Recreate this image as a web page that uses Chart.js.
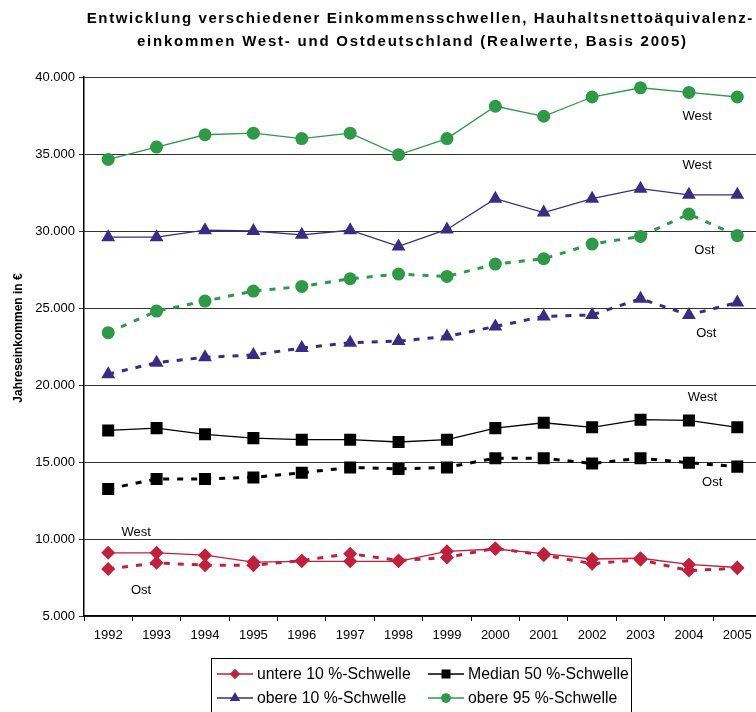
<!DOCTYPE html>
<html>
<head>
<meta charset="utf-8">
<title>Einkommensschwellen West/Ost</title>
<script src="https://cdn.jsdelivr.net/npm/chart.js@4/dist/chart.umd.min.js"></script>
<style>
  html, body { margin: 0; padding: 0; background: #fff; overflow: hidden; }
  #wrap { position: relative; width: 756px; height: 712px; overflow: hidden; }
  #chart { position: absolute; left: 0; top: 0; }
</style>
</head>
<body>
<div id="wrap"><canvas id="chart" width="770" height="712"></canvas></div>
<script>
const years = ["1992", "1993", "1994", "1995", "1996", "1997", "1998",
               "1999", "2000", "2001", "2002", "2003", "2004", "2005"];
const yMin = 5000;
const yMax = 40000;
const yStep = 5000;

const untere10West = [9100, 9100, 8950, 8500, 8550, 8550, 8550, 9200, 9350, 9050, 8700, 8750, 8350, 8150];
const untere10Ost = [8050, 8450, 8300, 8300, 8600, 9050, 8600, 8800, 9400, 8950, 8400, 8650, 7950, 8100];
const median50West = [17050, 17200, 16800, 16550, 16450, 16450, 16300, 16450, 17200, 17550, 17250, 17750, 17700, 17250];
const median50Ost = [13250, 13900, 13900, 14000, 14300, 14650, 14550, 14650, 15250, 15250, 14900, 15250, 14950, 14700];
const obere10West = [29600, 29600, 30050, 30000, 29750, 30050, 29000, 30100, 32100, 31200, 32100, 32750, 32350, 32350];
const obere10Ost = [20700, 21450, 21800, 21950, 22400, 22750, 22850, 23150, 23800, 24450, 24550, 25600, 24550, 25350];
const obere95West = [34650, 35450, 36250, 36350, 36000, 36350, 34950, 36000, 38100, 37450, 38700, 39300, 39000, 38700];
const obere95Ost = [23400, 24800, 25450, 26100, 26400, 26900, 27200, 27050, 27850, 28200, 29150, 29650, 31100, 29700];

const seriesNames = ["untere 10 %-Schwelle", "Median 50 %-Schwelle", "obere 10 %-Schwelle", "obere 95 %-Schwelle"];
const titleLines = [
  "Entwicklung verschiedener Einkommensschwellen, Hauhaltsnettoäquivalenz-",
  "einkommen West- und Ostdeutschland (Realwerte, Basis 2005)"
];
const yTitle = "Jahreseinkommen in €";

// West/Ost tags: [text, category index, value]
const regionTags = [
  ["West", 12.17, 37470],
  ["West", 12.17, 34290],
  ["Ost", 12.32, 28770],
  ["Ost", 12.36, 23380],
  ["West", 12.28, 19220],
  ["Ost", 12.48, 13700],
  ["West", 0.58, 10450],
  ["Ost", 0.68, 6690]
];

const FONT = '"Liberation Sans", Arial, sans-serif';
const RED = "#c1203c";
const BLACK = "#000000";
const PURPLE = "#3b2b84";
const GREEN = "#2e9a48";

const styles = [
  { color: RED, pointStyle: "rectRot", radius: 7 },
  { color: BLACK, pointStyle: "rect", radius: 8.5 },
  { color: PURPLE, pointStyle: "triangle", radius: 8 },
  { color: GREEN, pointStyle: "circle", radius: 6.5 }
];

function series(label, data, st, east) {
  return {
    label: label,
    data: data,
    borderColor: st.color,
    backgroundColor: st.color,
    pointBackgroundColor: st.color,
    pointBorderColor: st.color,
    pointBorderWidth: 0,
    pointStyle: st.pointStyle,
    pointRadius: st.radius,
    pointHoverRadius: st.radius,
    borderWidth: east ? 3 : 1.3,
    borderDash: east ? [6, 8] : [],
    tension: 0,
    fill: false
  };
}

const datasets = [
  series(seriesNames[0] + " Ost", untere10Ost, styles[0], true),
  series(seriesNames[0] + " West", untere10West, styles[0], false),
  series(seriesNames[1] + " Ost", median50Ost, styles[1], true),
  series(seriesNames[1] + " West", median50West, styles[1], false),
  series(seriesNames[2] + " Ost", obere10Ost, styles[2], true),
  series(seriesNames[2] + " West", obere10West, styles[2], false),
  series(seriesNames[3] + " Ost", obere95Ost, styles[3], true),
  series(seriesNames[3] + " West", obere95West, styles[3], false)
];

// titles, region tags and the boxed legend underneath
const decor = {
  id: "decor",
  afterDraw(chart) {
    const { ctx, scales: { x, y } } = chart;
    ctx.save();
    ctx.fillStyle = "#000";
    ctx.textAlign = "center";
    ctx.textBaseline = "middle";

    ctx.font = "bold 15px " + FONT;
    const titleSpecs = [[titleLines[0], 419.5, 19, 667], [titleLines[1], 411.5, 42, 551]];
    titleSpecs.forEach(([txt, cx, cy, w]) => {
      ctx.letterSpacing = "0px";
      const plain = ctx.measureText(txt).width;
      const sp = Math.max(0, (w - plain) / txt.length);
      ctx.letterSpacing = sp.toFixed(2) + "px";
      ctx.fillText(txt, cx + sp / 2, cy);
    });
    ctx.letterSpacing = "0px";

    ctx.save();
    ctx.translate(19, 338);
    ctx.rotate(-Math.PI / 2);
    ctx.font = "bold 12px " + FONT;
    ctx.fillText(yTitle, 0, 0);
    ctx.restore();

    ctx.font = "13px " + FONT;
    regionTags.forEach(([txt, idx, val]) => {
      ctx.fillText(txt, x.getPixelForValue(idx), y.getPixelForValue(val));
    });

    // legend box
    ctx.strokeStyle = "#000";
    ctx.lineWidth = 1;
    ctx.strokeRect(211.5, 658.5, 420, 70);
    const cols = [217, 428];
    const rows = [674, 698];
    ctx.textAlign = "left";
    ctx.font = "15.8px " + FONT;
    seriesNames.forEach((name, i) => {
      const st = styles[i];
      const lx = cols[i % 2];
      const ly = rows[Math.floor(i / 2)];
      ctx.strokeStyle = st.color;
      ctx.lineWidth = 1.3;
      ctx.beginPath();
      ctx.moveTo(lx, ly);
      ctx.lineTo(lx + 36, ly);
      ctx.stroke();
      ctx.fillStyle = st.color;
      Chart.helpers.drawPoint(ctx, {
        pointStyle: st.pointStyle,
        radius: st.radius * 0.75,
        rotation: 0,
        borderWidth: 0
      }, lx + 18, ly);
      ctx.fillStyle = "#000";
      ctx.fillText(name, lx + 40, ly + 1);
    });
    ctx.restore();
  }
};

new Chart(document.getElementById("chart"), {
  type: "line",
  data: { labels: years, datasets: datasets },
  options: {
    responsive: false,
    animation: false,
    events: [],
    layout: { padding: { top: 77, right: 8.5, bottom: 66, left: 0 } },
    plugins: {
      legend: { display: false },
      title: { display: false },
      tooltip: { enabled: false }
    },
    scales: {
      x: {
        offset: true,
        grid: {
          offset: true,
          drawOnChartArea: false,
          drawTicks: true,
          tickLength: 5,
          color: "#000"
        },
        border: { color: "#000", width: 1.5 },
        ticks: {
          color: "#000",
          font: { family: FONT, size: 13 },
          padding: 7,
          maxRotation: 0,
          autoSkip: false
        },
        afterFit(scale) { scale.height = 30; }
      },
      y: {
        min: yMin,
        max: yMax,
        grid: { color: "#333", lineWidth: 1, tickLength: 5 },
        border: { color: "#000", width: 1.5 },
        ticks: {
          stepSize: yStep,
          color: "#000",
          font: { family: FONT, size: 13 },
          padding: 4,
          callback: (v) => v.toLocaleString("de-DE")
        },
        afterFit(scale) { scale.width = 84; }
      }
    }
  },
  plugins: [decor]
});
</script>
</body>
</html>
